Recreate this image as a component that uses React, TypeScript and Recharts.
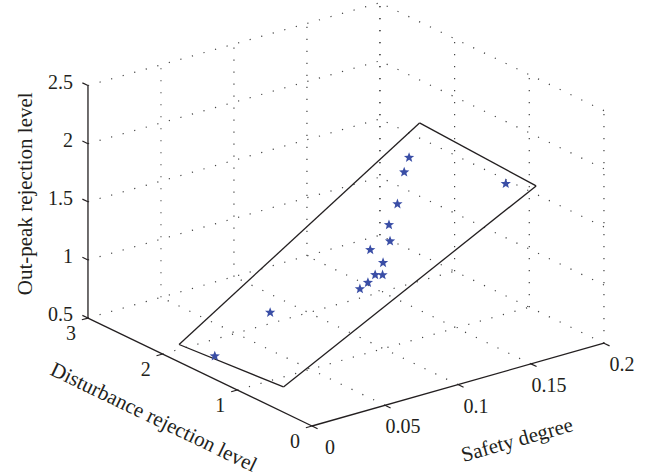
import React from 'react';
import { ScatterChart, Scatter, XAxis, YAxis, ReferenceLine } from 'recharts';

// measured samples (safety degree, disturbance rejection level, out-peak rejection level)
const safetyDegree = [0.177, 0.167, 0.189, 0.146, 0.131, 0.122, 0.111, 0.107, 0.098, 0.1, 0.091, 0.085, 0.045, 0.004];
const disturbanceLevel = [2.16, 2.03, 1.1, 1.71, 1.53, 1.34, 1.39, 1.14, 1.07, 1.01, 1.03, 1.02, 1.44, 1.38];
const outPeakLevel = [1.51, 1.46, 1.57, 1.36, 1.29, 1.24, 1.19, 1.17, 1.12, 1.13, 1.09, 1.06, 0.87, 0.66];

// corners of the fitted plane
const planeSafety = [0, 0.005, 0.196, 0.2];
const planeDisturbance = [1.78, 0.48, 0.83, 2.47];
const planeOutPeak = [0.65, 0.67, 1.61, 1.63];

const safetyTicks = [0, 0.05, 0.1, 0.15, 0.2];
const disturbanceTicks = [0, 1, 2, 3];
const outPeakTicks = [0.5, 1, 1.5, 2, 2.5];

const W = 663;
const H = 476;
const FONT = '"Liberation Serif", "Times New Roman", serif';
const INK = '#231f20';

// view setup (matlab-like az/el, orthographic)
const VIEW_AZ = 37.5;
const VIEW_EL = 21.7;
const Z_ASPECT = 0.68;
const PX_PER_BOX = 368;
const ORIGIN_X = 312;
const ORIGIN_Y = 426;

const sMin = safetyTicks[0], sMax = safetyTicks[safetyTicks.length - 1];
const dMin = disturbanceTicks[0], dMax = disturbanceTicks[disturbanceTicks.length - 1];
const oMin = outPeakTicks[0], oMax = outPeakTicks[outPeakTicks.length - 1];

type P3 = [number, number, number];

const toView = ([s, d, o]: P3) => {
  const nx = (s - sMin) / (sMax - sMin);
  const ny = (d - dMin) / (dMax - dMin);
  const nz = (o - oMin) / (oMax - oMin);
  const a = (VIEW_AZ * Math.PI) / 180;
  const e = (VIEW_EL * Math.PI) / 180;
  return {
    u: Math.cos(a) * nx - Math.sin(a) * ny,
    v: Math.sin(e) * (Math.sin(a) * nx + Math.cos(a) * ny) + Math.cos(e) * Z_ASPECT * nz,
  };
};

const uDomain = [-ORIGIN_X / PX_PER_BOX, (W - ORIGIN_X) / PX_PER_BOX];
const vDomain = [-(H - ORIGIN_Y) / PX_PER_BOX, ORIGIN_Y / PX_PER_BOX];

// grid on the back walls and floor
const gridSegs: [P3, P3][] = [];
safetyTicks.slice(1).forEach((s) => gridSegs.push([[s, dMax, oMin], [s, dMax, oMax]]));
outPeakTicks.slice(1).forEach((o) => gridSegs.push([[sMin, dMax, o], [sMax, dMax, o]]));
disturbanceTicks.forEach((d) => gridSegs.push([[sMax, d, oMin], [sMax, d, oMax]]));
outPeakTicks.slice(1).forEach((o) => gridSegs.push([[sMax, dMin, o], [sMax, dMax, o]]));
safetyTicks.slice(1).forEach((s) => gridSegs.push([[s, dMin, oMin], [s, dMax, oMin]]));
disturbanceTicks.slice(1).forEach((d) => gridSegs.push([[sMin, d, oMin], [sMax, d, oMin]]));

const axisSegs: [P3, P3][] = [
  [[sMin, dMax, oMin], [sMin, dMax, oMax]],
  [[sMin, dMin, oMin], [sMin, dMax, oMin]],
  [[sMin, dMin, oMin], [sMax, dMin, oMin]],
];
const tickSegs: [P3, P3][] = [
  ...outPeakTicks.map((o): [P3, P3] => [[sMin, dMax, o], [sMin, dMax + 0.075, o]]),
  ...disturbanceTicks.map((d): [P3, P3] => [[sMin, d, oMin], [sMin - 0.0042, d, oMin]]),
  ...safetyTicks.map((s): [P3, P3] => [[s, dMin, oMin], [s, dMin - 0.075, oMin]]),
];

const planeSegs: [P3, P3][] = planeSafety.map((s, i) => {
  const j = (i + 1) % planeSafety.length;
  return [[s, planeDisturbance[i], planeOutPeak[i]], [planeSafety[j], planeDisturbance[j], planeOutPeak[j]]];
});

const points = safetyDegree.map((s, i) => toView([s, disturbanceLevel[i], outPeakLevel[i]]));

const zLabels = outPeakTicks.map((o) => ({ ...toView([sMin, dMax, o]), label: String(o) }));
const dLabels = disturbanceTicks.map((d) => ({ ...toView([sMin, d, oMin]), label: String(d) }));
const sLabels = safetyTicks.map((s) => ({ ...toView([s, dMin, oMin]), label: String(s) }));
const zTitle = [{ ...toView([sMin, dMax, (oMin + oMax) / 2]), label: 'Out-peak rejection level' }];
const dTitle = [{ ...toView([sMin, (dMin + dMax) / 2, oMin]), label: 'Disturbance rejection level' }];
const sTitle = [{ ...toView([(sMin + sMax) / 2, dMin, oMin]), label: 'Safety degree' }];

const textShape = (dx: number, dy: number, anchor: string, angle: number, size: number) => (props: any) => {
  const x = props.cx + dx;
  const y = props.cy + dy;
  return (
    <text
      x={x}
      y={y}
      textAnchor={anchor}
      dominantBaseline="central"
      transform={angle ? `rotate(${angle} ${x} ${y})` : undefined}
      fontFamily={FONT}
      fontSize={size}
      fill={INK}
    >
      {props.payload.label}
    </text>
  );
};

const StarMark = (props: any) => {
  const { cx, cy } = props;
  const pts: string[] = [];
  for (let i = 0; i < 10; i++) {
    const r = i % 2 === 0 ? 5.4 : 2.3;
    const a = -Math.PI / 2 + (i * Math.PI) / 5;
    pts.push(`${cx + r * Math.cos(a)},${cy + r * Math.sin(a)}`);
  }
  return <polygon points={pts.join(' ')} fill="#3a4ea6" />;
};

const segment = (seg: [P3, P3]) => {
  const a = toView(seg[0]);
  const b = toView(seg[1]);
  return [{ x: a.u, y: a.v }, { x: b.u, y: b.v }];
};

export default function App() {
  return (
    <div style={{ position: 'absolute', left: 0, top: 0, width: W, height: H, background: '#fff' }}>
      <ScatterChart width={W} height={H} margin={{ top: 0, right: 0, bottom: 0, left: 0 }}>
        <XAxis type="number" dataKey="u" domain={uDomain} allowDataOverflow hide />
        <YAxis type="number" dataKey="v" domain={vDomain} allowDataOverflow hide />

        {gridSegs.map((s, i) => (
          <ReferenceLine key={`g${i}`} segment={segment(s)} stroke="#444" strokeWidth={1.2} strokeDasharray="1.2 10.8" ifOverflow="visible" />
        ))}
        {axisSegs.map((s, i) => (
          <ReferenceLine key={`a${i}`} segment={segment(s)} stroke={INK} strokeWidth={1.3} ifOverflow="visible" />
        ))}
        {tickSegs.map((s, i) => (
          <ReferenceLine key={`t${i}`} segment={segment(s)} stroke={INK} strokeWidth={1.2} ifOverflow="visible" />
        ))}
        {planeSegs.map((s, i) => (
          <ReferenceLine key={`p${i}`} segment={segment(s)} stroke={INK} strokeWidth={1.3} ifOverflow="visible" />
        ))}

        <Scatter data={points} shape={StarMark} isAnimationActive={false} />

        <Scatter data={zLabels} shape={textShape(-15, -4, 'end', 0, 20)} isAnimationActive={false} />
        <Scatter data={dLabels} shape={textShape(-17, 15, 'middle', 0, 20)} isAnimationActive={false} />
        <Scatter data={sLabels} shape={textShape(18, 21, 'middle', 0, 20)} isAnimationActive={false} />
        <Scatter data={zTitle} shape={textShape(-63, -8, 'middle', -90, 21)} isAnimationActive={false} />
        <Scatter data={dTitle} shape={textShape(-46, 45, 'middle', 25.7, 21)} isAnimationActive={false} />
        <Scatter data={sTitle} shape={textShape(59, 55, 'middle', -15.8, 21)} isAnimationActive={false} />
      </ScatterChart>
    </div>
  );
}
